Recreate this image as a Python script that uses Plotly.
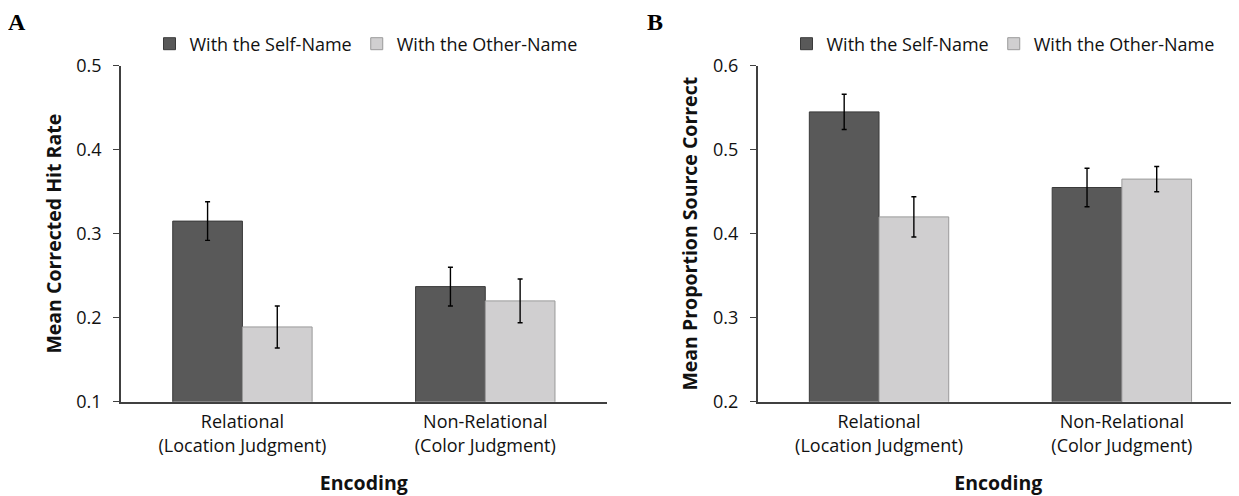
import plotly.graph_objects as go

categories = ["Relational<br>(Location Judgment)", "Non-Relational<br>(Color Judgment)"]
series_names = ["With the Self-Name", "With the Other-Name"]

# Panel A: Mean Corrected Hit Rate
a_self = [0.315, 0.237]
a_self_err = [0.023, 0.023]
a_other = [0.189, 0.220]
a_other_err = [0.025, 0.026]

# Panel B: Mean Proportion Source Correct
b_self = [0.545, 0.455]
b_self_err = [0.021, 0.023]
b_other = [0.420, 0.465]
b_other_err = [0.024, 0.015]

dark = "#595959"
dark_edge = "#3a3a3a"
light = "#d0cfd0"
light_edge = "#9a9a9a"
FONT = "Open Sans"

fig = go.Figure()

def add_bar(x, y, err, name, color, edge, xa, ya, legend):
    fig.add_trace(go.Bar(
        x=x, y=y, name=name, xaxis=xa, yaxis=ya, legend=legend,
        marker=dict(color=color, line=dict(color=edge, width=1)),
        error_y=dict(type="data", array=err, visible=True, color="black",
                     thickness=1.4, width=2.5),
    ))

add_bar(categories, a_self, a_self_err, series_names[0], dark, dark_edge, "x", "y", "legend")
add_bar(categories, a_other, a_other_err, series_names[1], light, light_edge, "x", "y", "legend")
add_bar(categories, b_self, b_self_err, series_names[0], dark, dark_edge, "x2", "y2", "legend2")
add_bar(categories, b_other, b_other_err, series_names[1], light, light_edge, "x2", "y2", "legend2")

# page body has an 8px margin; figure sized to fit the window
OFF = 8
W, H = 1239 - OFF, 496 - OFF

def sx(x):
    return (x - OFF) / W

def sy(y):
    return 1 - (y - OFF) / H

ytop = sy(65.7)
ybot = sy(401.7)
xa_dom = [sx(121), sx(606.7)]
xb_dom = [sx(757.6), 1.0]
# category width in px (same in both panels)
cat_px = (606.7 - 121) / 2
xb_right = -0.5 + (W + OFF - 757.6) / cat_px

tickfont = dict(family=FONT, size=18, color="#111111")
titlefont = dict(family=FONT, size=19.5, color="#111111", weight="bold")

xcommon = dict(showline=True, linecolor="#404040", linewidth=2, ticks="",
               tickfont=tickfont, ticklabelstandoff=3,
               showgrid=False, zeroline=False, automargin=False,
               title=dict(text="Encoding", font=titlefont, standoff=22))
ycommon = dict(showline=True, linecolor="#404040", linewidth=1.5, ticks="outside",
               ticklen=6, tickcolor="#404040", tickwidth=1.2, tickfont=tickfont,
               ticklabelstandoff=8,
               showgrid=False, zeroline=False, dtick=0.1, tickformat=".1f", automargin=False)

legfont = dict(family=FONT, size=18, color="#111111")

fig.update_layout(
    width=W, height=H,
    margin=dict(l=0, r=0, t=0, b=0, pad=0, autoexpand=False),
    paper_bgcolor="white", plot_bgcolor="white",
    barmode="group", bargap=0.426, bargroupgap=0,
    xaxis=dict(domain=xa_dom, anchor="y", range=[-0.5, 1.5], **xcommon),
    yaxis=dict(domain=[ybot, ytop], anchor="x", range=[0.1, 0.5],
               title=dict(text="Mean Corrected Hit Rate", font=titlefont, standoff=10),
               **ycommon),
    xaxis2=dict(domain=xb_dom, anchor="y2", range=[-0.5, xb_right], **xcommon),
    yaxis2=dict(domain=[ybot, ytop], anchor="x2", range=[0.2, 0.6],
                title=dict(text="Mean Proportion Source Correct", font=titlefont, standoff=10),
                **ycommon),
    legend=dict(orientation="h", x=sx(366), xanchor="center",
                y=sy(44), yanchor="middle", font=legfont,
                itemwidth=30, bgcolor="rgba(0,0,0,0)"),
    legend2=dict(orientation="h", x=sx(1003), xanchor="center",
                 y=sy(44), yanchor="middle", font=legfont,
                 itemwidth=30, bgcolor="rgba(0,0,0,0)"),
    annotations=[
        dict(text="<b>A</b>", x=sx(7), y=1.0, xref="paper", yref="paper",
             xanchor="left", yanchor="top", showarrow=False, borderpad=0,
             font=dict(family="Liberation Serif", size=24, color="black")),
        dict(text="<b>B</b>", x=sx(646), y=1.0, xref="paper", yref="paper",
             xanchor="left", yanchor="top", showarrow=False, borderpad=0,
             font=dict(family="Liberation Serif", size=24, color="black")),
    ],
)

fig.write_html("out.html")
